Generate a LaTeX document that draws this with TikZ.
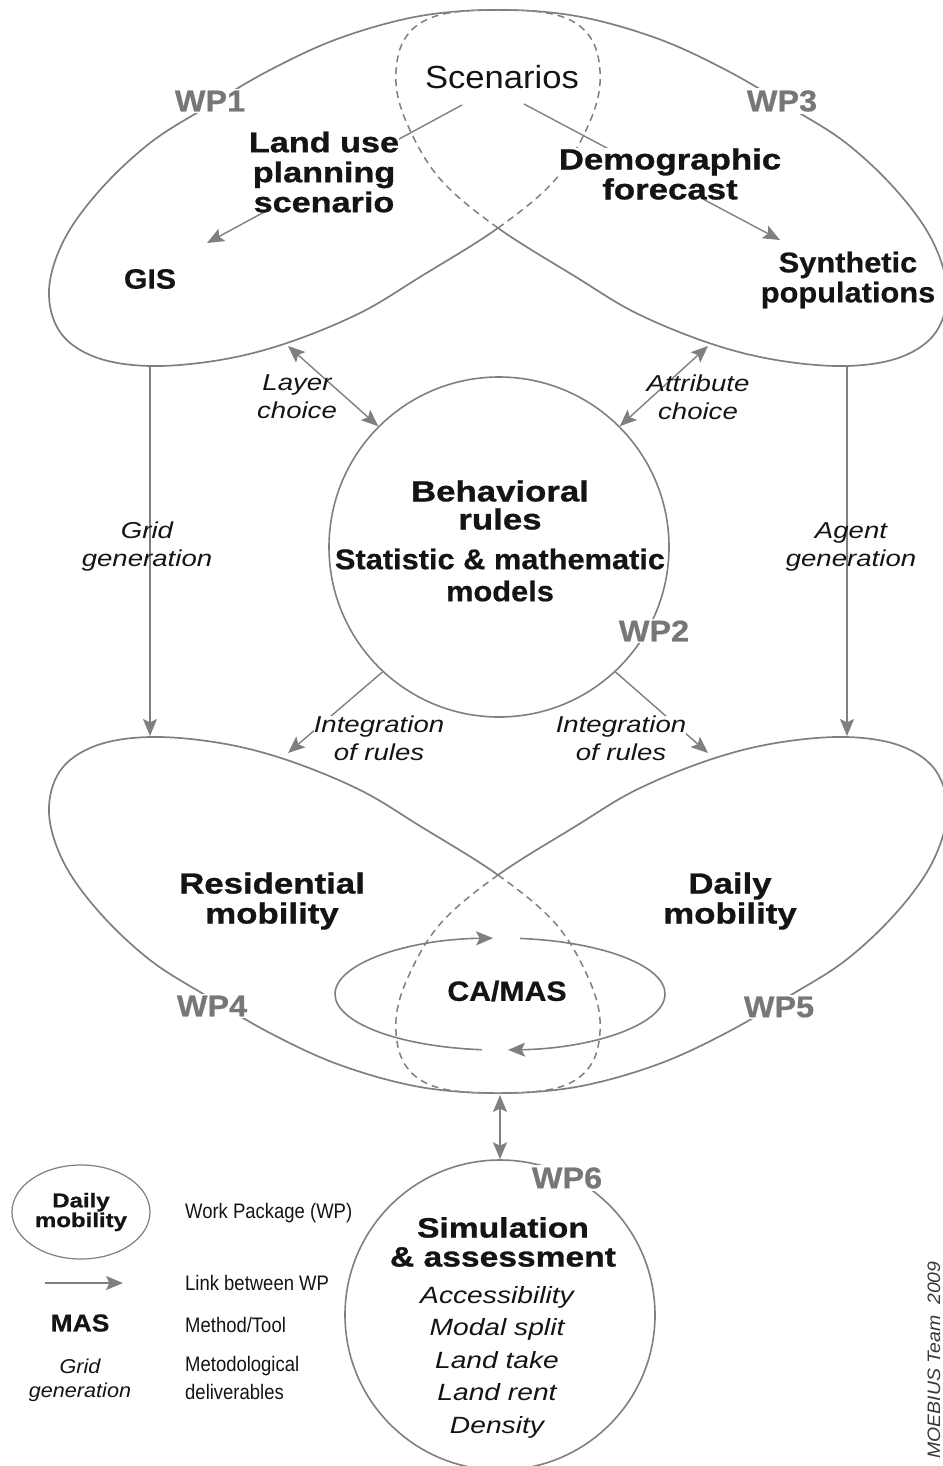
\documentclass[tikz,border=0pt]{standalone}
\usepackage{fontspec}
\setmainfont{Liberation Sans}
\newfontfamily\fA[FakeStretch=1.08, BoldFeatures={FakeBold=0.6}]{Liberation Sans}
\newfontfamily\fB[FakeStretch=1.2, BoldFeatures={FakeBold=1}]{Liberation Sans}
\newfontfamily\fN[FakeStretch=0.88]{Liberation Sans}
\usetikzlibrary{arrows.meta,shapes.geometric}
\definecolor{gcol}{HTML}{7F7F7F}
\definecolor{lcol}{HTML}{777777}
\definecolor{tcol}{HTML}{141414}
\pgfdeclarelayer{bg}
\pgfsetlayers{bg,main}
\newcommand\fsz[2]{\fontsize{#1}{#2}\selectfont}
\def\lobe{plot[smooth cycle, tension=0.6] coordinates {(498,10) (420,16) (340,38) (270,70) (205,108) (150,143) (100,190) (64,240) (49,290) (60,332) (95,357) (150,366) (220,360) (287,343) (360,313) (420,277) (498,228) (555,180) (587,128) (600,83) (592,40) (560,16)}}
\begin{document}
\begin{tikzpicture}[x=1pt,y=-1pt,
  every node/.style={inner sep=0pt, text=tcol},
  wpl/.style={font=\fA\bfseries\fsz{30}{30}, text=lcol, fill=white, inner sep=2pt},
  bw/.style={font=\fB\bfseries\fsz{29}{30}, align=center},
  it/.style={font=\fB\itshape\fsz{23}{28}, align=center},
  ol/.style={draw=gcol, line width=1.7pt},
  dsh/.style={draw=gcol, line width=1.5pt, dash pattern=on 7pt off 5pt},
  tip/.tip={Stealth[length=17pt,width=14pt,inset=3.5pt]},
  arr/.style={draw=gcol, line width=1.4pt, -tip},
  darr/.style={draw=gcol, line width=1.4pt, tip-tip},
  mx/.style={xshift=498pt, xscale=-1, xshift=-498pt},
  my/.style={yshift=-551.5pt, yscale=-1, yshift=551.5pt},
  mxy/.style={mx, my}]
\useasboundingbox (0,0) rectangle (942,1466);

% ---------- text nodes ----------
\node[font=\fA\fsz{32}{34}] (scen) at (502,77) {Scenarios};
\node[wpl] (wp1) at (210,101) {WP1};
\node[wpl] (wp3) at (782,101) {WP3};
\node[bw, font=\fB\bfseries\fsz{28.5}{30}, fill=white] (land) at (324,172) {Land use\\planning\\scenario};
\node[bw, fill=white] (demo) at (670,174) {Demographic\\forecast};
\node[font=\fA\bfseries\fsz{28}{30}] (gis) at (150,279) {GIS};
\node[font=\fA\bfseries\fsz{28.5}{30}, align=center] (syn) at (848,280) {Synthetic\\populations};
\node[it] (layer) at (297,397) {Layer\\choice};
\node[it] (attr) at (698,397) {Attribute\\choice};
\node[it] (grid) at (147,547) {Grid\\generation};
\node[it] (agent) at (851,547) {Agent\\generation};
\node[circle, draw=gcol, line width=1.6pt, minimum size=340pt] (wp2c) at (499,547) {};
\node[bw, font=\fB\bfseries\fsz{29}{28}] (beh) at (500,505) {Behavioral\\rules};
\node[font=\fA\bfseries\fsz{28.5}{32}, align=center] (stat) at (500,575) {Statistic \& mathematic\\models};
\node[wpl] (wp2) at (654,631) {WP2};
\node[it, fill=white] (intl) at (379,738) {Integration\\of rules};
\node[it, fill=white] (intr) at (621,738) {Integration\\of rules};
\node[bw] (res) at (272,901) {Residential\\mobility};
\node[bw] (dm) at (730,901) {Daily\\mobility};
\node[font=\fA\bfseries\fsz{28}{30}] (camas) at (507,991) {CA/MAS};
\node[wpl] (wp4) at (212,1006) {WP4};
\node[wpl] (wp5) at (779,1007) {WP5};
\node[circle, draw=gcol, line width=1.6pt, minimum size=310pt] (wp6c) at (500,1315) {};
\node[wpl] (wp6) at (567,1178) {WP6};
\node[bw, font=\fB\bfseries\fsz{28}{29}] (sim) at (503,1242) {Simulation\\\& assessment};
\node[it, font=\fB\itshape\fsz{23.5}{32.5}] (list) at (497,1362) {Accessibility\\Modal split\\Land take\\Land rent\\Density};

% ---------- legend ----------
\node[ellipse, draw=gcol, line width=1.2pt, minimum width=138pt, minimum height=94pt, font=\fB\bfseries\fsz{20}{17}, align=center] (leg) at (81,1212) {Daily\\mobility};
\node[font=\fN\fsz{21}{28}, anchor=base west] (l1) at (185,1218) {Work Package (WP)};
\node[font=\fN\fsz{21}{28}, anchor=base west] (l2) at (185,1290) {Link between WP};
\node[font=\fN\fsz{21}{28}, anchor=base west] (l3) at (185,1332) {Method/Tool};
\node[font=\fN\fsz{21}{28}, anchor=west, align=left] (l4) at (185,1378) {Metodological\\deliverables};
\node[font=\fA\bfseries\fsz{24.5}{26}] (mas) at (80,1323) {MAS};
\node[font=\fA\itshape\fsz{20}{24}, align=center] (lgrid) at (80,1380) {Grid\\generation};
\node[rotate=90, font=\fA\itshape\fsz{18}{20}, text=tcol!85] (moe) at (934,1360) {MOEBIUS Team\ \ 2009};

% ---------- coordinates ----------
\coordinate (sA) at (462,105);  \coordinate (gisT) at (207,243);
\coordinate (sB) at (524,104);  \coordinate (synT) at (780,240);
\coordinate (w1b) at (150,366); \coordinate (w4t) at (150,736);
\coordinate (w3b) at (847,366); \coordinate (w5t) at (847,736);
\coordinate (w1e) at (288,346); \coordinate (w3e) at (708,346);
\coordinate (w4e) at (288,753); \coordinate (w5e) at (708,753);
\coordinate (w45) at (500,1095);
\coordinate (la1) at (45,1283); \coordinate (la2) at (123,1283);

\begin{pgfonlayer}{bg}
% WP1 lobe
\begin{scope}[even odd rule]\clip[mx] (-600,-600) rectangle (1600,2100) \lobe; \draw[ol] \lobe; \end{scope}
\begin{scope}\clip[mx] \lobe; \draw[dsh] \lobe; \end{scope}
% WP3 lobe
\begin{scope}[even odd rule]\clip (-600,-600) rectangle (1600,2100) \lobe; \draw[ol, mx] \lobe; \end{scope}
\begin{scope}\clip \lobe; \draw[dsh, mx] \lobe; \end{scope}
% WP4 lobe
\begin{scope}[even odd rule]\clip[mxy] (-600,-600) rectangle (1600,2100) \lobe; \draw[ol, my] \lobe; \end{scope}
\begin{scope}\clip[mxy] \lobe; \draw[dsh, my] \lobe; \end{scope}
% WP5 lobe
\begin{scope}[even odd rule]\clip[my] (-600,-600) rectangle (1600,2100) \lobe; \draw[ol, mxy] \lobe; \end{scope}
\begin{scope}\clip[my] \lobe; \draw[dsh, mxy] \lobe; \end{scope}

% connectors
\draw[arr] (sA) -- (gisT);
\draw[arr] (sB) -- (synT);
\draw[darr] (w1e) -- (wp2c.135);
\draw[darr] (w3e) -- (wp2c.45);
\draw[arr] (w1b) -- (w4t);
\draw[arr] (w3b) -- (w5t);
\draw[arr] (wp2c.227) -- (w4e);
\draw[arr] (wp2c.-47) -- (w5e);
\draw[darr] (w45) -- (wp6c.north);
% CA/MAS cycle
\draw[arr, line width=1.6pt] (520.11,938.42) arc[start angle=83, end angle=-87.2, x radius=165pt, y radius=56pt];
\draw[arr, line width=1.6pt] (481.9,1049.7) arc[start angle=263.7, end angle=92.4, x radius=165pt, y radius=56pt];
% legend arrow
\draw[arr, line width=1.6pt] (la1) -- (la2);
\end{pgfonlayer}
\end{tikzpicture}
\end{document}
